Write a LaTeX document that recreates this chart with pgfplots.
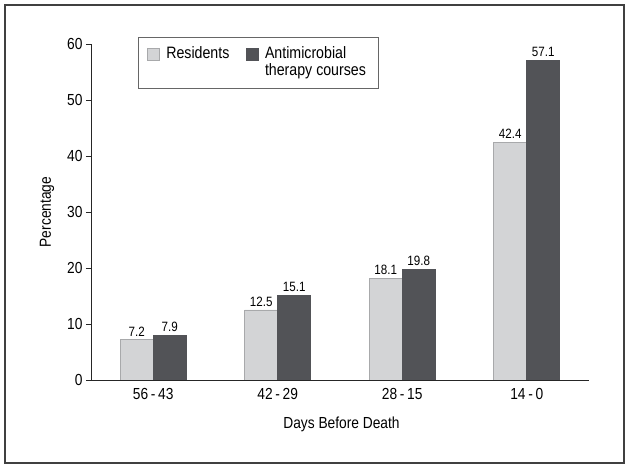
\documentclass[border=0pt]{standalone}
\usepackage{fontspec}
\setmainfont{Liberation Sans}[FakeStretch=0.86]
\usepackage{pgfplots}
\pgfplotsset{compat=1.18}
\definecolor{lightbar}{HTML}{D3D4D6}
\definecolor{lightedge}{HTML}{A8A9AB}
\definecolor{darkbar}{HTML}{525357}
\definecolor{framecol}{HTML}{404040}
\begin{document}
\begin{tikzpicture}
\begin{axis}[
  scale only axis,
  width=498pt, height=336pt,
  xmin=-0.5, xmax=3.5, ymin=0, ymax=60,
  ybar=0pt, bar width=33pt,
  axis x line*=bottom, axis y line*=left,
  axis line style={line width=0.9pt, black!85},
  xtick={0,1,2,3},
  xticklabels={56\,-\,43, 42\,-\,29, 28\,-\,15, 14\,-\,0},
  ytick={0,10,20,30,40,50,60},
  tick align=outside, major tick length=5pt,
  xtick style={draw=none},
  ytick style={line width=0.9pt, black!85},
  /pgf/number format/assume math mode=true,
  ticklabel style={font=\fontsize{16}{19}\selectfont},
  xlabel={Days Before Death},
  ylabel={Percentage},
  every axis x label/.style={at={(axis description cs:0.503,-0.131)}, anchor=center, font=\fontsize{16}{19}\selectfont},
  every axis y label/.style={at={(axis description cs:-0.0884,0.5)}, rotate=90, anchor=center, font=\fontsize{16}{19}\selectfont},
  nodes near coords={\pgfmathprintnumber[fixed,precision=1]{\pgfplotspointmeta}},
  every node near coord/.append style={font=\fontsize{13.5}{16}\selectfont, black},
  legend columns=2,
  legend image code/.code={\path (0pt,7pt); \draw[#1] (0pt,-15pt) rectangle (12pt,-3pt);},
  legend style={
    at={(axis description cs:0.094,1.021)}, anchor=north west,
    draw=black!60, line width=0.8pt,
    font=\fontsize{16.5}{18}\selectfont,
    inner xsep=9pt, inner ysep=1pt,
    nodes={inner xsep=3.5pt, inner ysep=1pt, align=left},
    /tikz/every odd column/.append style={column sep=3pt},
    /tikz/every even column/.append style={column sep=13pt},
    cells={anchor=north west},
  },
]
\addplot[fill=lightbar, draw=lightedge, line width=0.6pt] coordinates {(0,7.2) (1,12.5) (2,18.1) (3,42.4)};
\addplot[fill=darkbar, draw=darkbar, line width=0.6pt] coordinates {(0,7.9) (1,15.1) (2,19.8) (3,57.1)};
\legend{Residents, {Antimicrobial\\[-1pt]therapy courses\\[-9pt]\mbox{}}}
\end{axis}
\draw[line width=1.2pt, framecol] (-86pt,-83pt) rectangle (533pt,375pt);
\path (-91pt,-88pt) rectangle (538pt,380pt);
\end{tikzpicture}
\end{document}
